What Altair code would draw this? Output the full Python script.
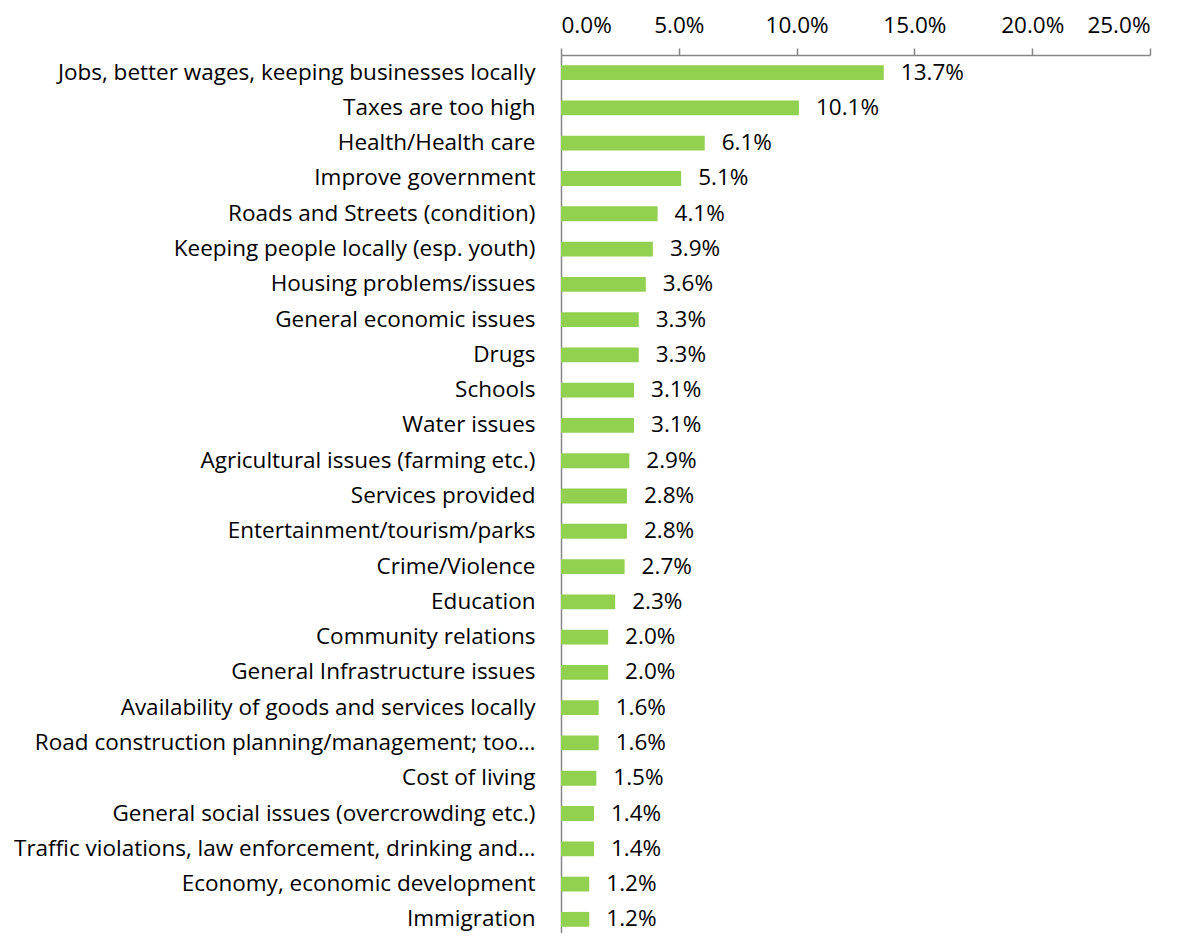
import altair as alt
import pandas as pd

categories = [
    "Jobs, better wages, keeping businesses locally",
    "Taxes are too high",
    "Health/Health care",
    "Improve government",
    "Roads and Streets (condition)",
    "Keeping people locally (esp. youth)",
    "Housing problems/issues",
    "General economic issues",
    "Drugs",
    "Schools",
    "Water issues",
    "Agricultural issues (farming etc.)",
    "Services provided",
    "Entertainment/tourism/parks",
    "Crime/Violence",
    "Education",
    "Community relations",
    "General Infrastructure issues",
    "Availability of goods and services locally",
    "Road construction planning/management; too\u2026",
    "Cost of living",
    "General social issues (overcrowding etc.)",
    "Traffic violations, law enforcement, drinking and\u2026",
    "Economy, economic development",
    "Immigration",
]
values = [13.7, 10.1, 6.1, 5.1, 4.1, 3.9, 3.6, 3.3, 3.3, 3.1, 3.1, 2.9, 2.8, 2.8,
          2.7, 2.3, 2.0, 2.0, 1.6, 1.6, 1.5, 1.4, 1.4, 1.2, 1.2]
x_ticks = [0, 5, 10, 15, 20, 25]

df = pd.DataFrame({"category": categories, "value": values})

FONT = "Open Sans"
FS = 22.5

y_enc = alt.Y("category:N", sort=categories, title=None,
              scale=alt.Scale(range=[0, 882], paddingInner=0.58, paddingOuter=0.29),
              axis=alt.Axis(ticks=False, labelPadding=26, labelFont=FONT, labelFontSize=FS,
                            labelColor="#000000", domainColor="#868686", domainWidth=1.5,
                            labelLimit=700))
x_enc = alt.X("value:Q", title=None,
              scale=alt.Scale(domain=[0, 25], nice=False),
              axis=alt.Axis(orient="top", values=x_ticks, grid=False,
                            labelExpr="format(datum.value, '.1f') + '%'",
                            labelFont=FONT, labelFontSize=FS, labelColor="#000000",
                            domainColor="#868686", domainWidth=1.5, tickColor="#868686",
                            tickWidth=1.5, tickSize=7, labelPadding=11))

bars = alt.Chart(df).mark_bar(color="#92D050").encode(y=y_enc, x=x_enc)
labels = alt.Chart(df).transform_calculate(
    lab="format(datum.value, '.1f') + '%'"
).mark_text(align="left", baseline="middle", dx=17, font=FONT, fontSize=FS, color="#000000").encode(
    y=alt.Y("category:N", sort=categories), x=alt.X("value:Q"), text="lab:N")

chart = (bars + labels).properties(
    width=589, height=878,
    background="#ffffff",
    autosize=alt.AutoSizeParams(type="none"),
    padding={"left": 553, "top": 47, "right": 31, "bottom": 0},
).configure_view(stroke=None)

chart.save("out.html", embed_options={"renderer": "svg", "actions": False})
